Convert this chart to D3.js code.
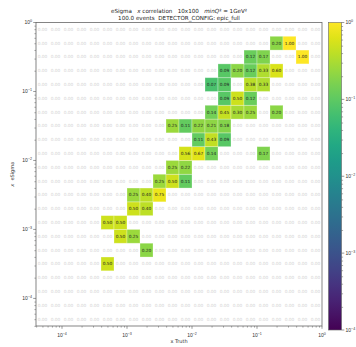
<!DOCTYPE html>
<html>
<head>
<meta charset="utf-8">
<script src="https://cdn.jsdelivr.net/npm/d3@7"></script>
<style>
  body { margin: 0; background: #fff; }
  svg { display: block; font-family: "DejaVu Sans", sans-serif; }
  text { white-space: pre; }
</style>
</head>
<body>
<div id="chart"></div>
<script>
// log10 bin edges: 22 bins of 0.2 decades from 10^-4.4 to 10^0 (both axes)
const binLogMin = -4.4;
const binLogStep = 0.2;
const nBins = 22;

// non-empty cells: x bin index, y bin index (0 = lowest), value
const cellX = [18, 19, 16, 17, 20, 14, 15, 16, 17, 18, 13, 14, 16, 17, 14, 15, 16,
  13, 14, 15, 16, 18, 10, 11, 12, 13, 14, 12, 13, 14, 11, 12, 13, 17,
  10, 11, 9, 10, 11, 7, 8, 9, 7, 8, 5, 6, 6, 7, 8, 5];
const cellY = [20, 20, 19, 19, 19, 18, 18, 18, 18, 18, 17, 17, 17, 17, 16, 16, 16,
  15, 15, 15, 15, 15, 14, 14, 14, 14, 14, 13, 13, 13, 12, 12, 12, 12,
  11, 11, 10, 10, 10, 9, 9, 9, 8, 8, 7, 7, 6, 6, 5, 4];
const cellValue = [0.20, 1.00, 0.12, 0.17, 1.00, 0.09, 0.20, 0.12, 0.33, 0.60, 0.07, 0.09, 0.38, 0.33, 0.09, 0.50, 0.12,
  0.14, 0.45, 0.30, 0.25, 0.20, 0.25, 0.11, 0.22, 0.21, 0.18, 0.11, 0.43, 0.09, 0.56, 0.67, 0.14, 0.17,
  0.25, 0.22, 0.25, 0.50, 0.11, 0.25, 0.40, 0.75, 0.50, 0.40, 0.50, 0.50, 0.50, 0.25, 0.20, 0.50];

const axisDecades = [-4, -3, -2, -1, 0];
const colorDecades = [-4, -3, -2, -1, 0];
// title pieces: [text, italic]
const titleLine1 = [['eSigma   ', false], ['x', true], [' correlation   10x100   ', false], ['minQ', true], ['² = 1GeV²', false]];
const titleLine2 = '100.0 events  DETECTOR_CONFIG: epic_full';
const xLabel = 'x Truth';
const yLabel = [['x', true], ['  eSigma', false]];

const W = 356, H = 347;
const plot = { left: 36, right: 322, top: 22.5, bottom: 326 };
const cbar = { left: 328.5, right: 341.5, top: 22.5, bottom: 330 };

const svg = d3.select('#chart').append('svg').attr('width', W).attr('height', H);

const edge = (i) => Math.pow(10, binLogMin + binLogStep * i);
const x = d3.scaleLog().domain([edge(0), edge(nBins)]).range([plot.left, plot.right]);
const y = d3.scaleLog().domain([edge(0), edge(nBins)]).range([plot.bottom, plot.top]);
const cnorm = d3.scaleLog().domain([1e-4, 1]).range([0, 1]).clamp(true);
const color = (v) => d3.interpolateViridis(cnorm(v));

// full grid of values
const grid = [];
for (let j = 0; j < nBins; j++) {
  for (let i = 0; i < nBins; i++) grid.push({ i, j, v: 0 });
}
cellValue.forEach((v, k) => {
  grid[cellY[k] * nBins + cellX[k]].v = v;
});

const cells = svg.append('g');
cells.selectAll('rect')
  .data(grid.filter((d) => d.v > 0))
  .join('rect')
  .attr('x', (d) => x(edge(d.i)))
  .attr('y', (d) => y(edge(d.j + 1)))
  .attr('width', (d) => x(edge(d.i + 1)) - x(edge(d.i)))
  .attr('height', (d) => y(edge(d.j)) - y(edge(d.j + 1)))
  .attr('fill', (d) => color(d.v))
  .attr('stroke', '#fff')
  .attr('stroke-opacity', 0.35)
  .attr('stroke-width', 0.8);

cells.selectAll('text')
  .data(grid)
  .join('text')
  .attr('x', (d) => (x(edge(d.i)) + x(edge(d.i + 1))) / 2)
  .attr('y', (d) => (y(edge(d.j)) + y(edge(d.j + 1))) / 2)
  .attr('dy', '0.35em')
  .attr('text-anchor', 'middle')
  .attr('font-size', 4.3)
  .attr('fill', (d) => (d.v > 0 ? '#222' : '#d2d2d2'))
  .text((d) => d.v.toFixed(2));

// superscript tick label helper
function powLabel(sel, e) {
  sel.text('10');
  sel.append('tspan').attr('dy', -2).attr('font-size', 3.6).text(e === 0 ? '0' : '\u2212' + Math.abs(e));
}

function pieces(sel, parts) {
  parts.forEach(([t, it]) => {
    sel.append('tspan').attr('font-style', it ? 'italic' : null).text(t);
  });
}

function minorTicks(scale) {
  const [a, b] = scale.domain();
  const out = [];
  for (let k = Math.floor(Math.log10(a)); k <= Math.ceil(Math.log10(b)); k++) {
    for (let m = 2; m <= 9; m++) {
      const t = m * Math.pow(10, k);
      if (t >= a && t <= b) out.push(t);
    }
  }
  return out;
}

const tickColor = '#555';

// x axis
const xAxis = svg.append('g').attr('transform', `translate(0,${plot.bottom})`);
xAxis.call(d3.axisBottom(x).tickValues(minorTicks(x)).tickSize(1.6).tickFormat(''));
const xMajor = xAxis.append('g');
axisDecades.forEach((e) => {
  const px = x(Math.pow(10, e));
  xMajor.append('line').attr('x1', px).attr('x2', px).attr('y1', 0).attr('y2', 2.8)
    .attr('stroke', tickColor).attr('stroke-width', 0.6);
  xMajor.append('text').attr('x', px).attr('y', 10.5).attr('text-anchor', 'middle')
    .attr('font-size', 5).attr('fill', '#333').call(powLabel, e);
});

// y axis
const yAxis = svg.append('g').attr('transform', `translate(${plot.left},0)`);
yAxis.call(d3.axisLeft(y).tickValues(minorTicks(y)).tickSize(1.6).tickFormat(''));
const yMajor = yAxis.append('g');
axisDecades.forEach((e) => {
  const py = y(Math.pow(10, e));
  yMajor.append('line').attr('x1', 0).attr('x2', -2.8).attr('y1', py).attr('y2', py)
    .attr('stroke', tickColor).attr('stroke-width', 0.6);
  yMajor.append('text').attr('x', -4).attr('y', py + 1.8).attr('text-anchor', 'end')
    .attr('font-size', 5).attr('fill', '#333').call(powLabel, e);
});

[xAxis, yAxis].forEach((g) => {
  g.selectAll('.tick line').attr('stroke', tickColor).attr('stroke-width', 0.5);
  g.select('.domain').remove();
});

// frame
svg.append('rect')
  .attr('x', plot.left).attr('y', plot.top)
  .attr('width', plot.right - plot.left).attr('height', plot.bottom - plot.top)
  .attr('fill', 'none').attr('stroke', '#666').attr('stroke-width', 0.8);

// titles
const cx = (plot.left + plot.right) / 2;
svg.append('text')
  .attr('x', cx).attr('y', 12.8)
  .attr('text-anchor', 'middle').attr('font-size', 5.6).attr('fill', '#222')
  .call(pieces, titleLine1);
svg.append('text')
  .attr('x', cx).attr('y', 20.2)
  .attr('text-anchor', 'middle').attr('font-size', 5.6).attr('fill', '#222')
  .text(titleLine2);

svg.append('text')
  .attr('x', cx)
  .attr('y', 343)
  .attr('text-anchor', 'middle')
  .attr('font-size', 5)
  .attr('fill', '#333')
  .text(xLabel);

svg.append('text')
  .attr('transform', `translate(14,${(plot.top + plot.bottom) / 2}) rotate(-90)`)
  .attr('text-anchor', 'middle')
  .attr('font-size', 5)
  .attr('fill', '#333')
  .call(pieces, yLabel);

// colorbar
const defs = svg.append('defs');
const grad = defs.append('linearGradient').attr('id', 'cb')
  .attr('x1', 0).attr('x2', 0).attr('y1', 1).attr('y2', 0);
d3.range(0, 1.0001, 0.05).forEach((t) => {
  grad.append('stop').attr('offset', t).attr('stop-color', d3.interpolateViridis(t));
});
svg.append('rect')
  .attr('x', cbar.left).attr('y', cbar.top)
  .attr('width', cbar.right - cbar.left).attr('height', cbar.bottom - cbar.top)
  .attr('fill', 'url(#cb)').attr('stroke', '#666').attr('stroke-width', 0.6);

const cy = d3.scaleLog().domain([1e-4, 1]).range([cbar.bottom, cbar.top]);
const cAxis = svg.append('g').attr('transform', `translate(${cbar.right},0)`);
cAxis.call(d3.axisRight(cy).tickValues(minorTicks(cy)).tickSize(1.6).tickFormat(''));
cAxis.selectAll('.tick line').attr('stroke', tickColor).attr('stroke-width', 0.5);
cAxis.select('.domain').remove();
colorDecades.forEach((e) => {
  const py = cy(Math.pow(10, e));
  cAxis.append('line').attr('x1', 0).attr('x2', 2.8).attr('y1', py).attr('y2', py)
    .attr('stroke', tickColor).attr('stroke-width', 0.6);
  cAxis.append('text').attr('x', 4).attr('y', py + 1.8)
    .attr('font-size', 5).attr('fill', '#333').call(powLabel, e);
});
</script>
</body>
</html>
